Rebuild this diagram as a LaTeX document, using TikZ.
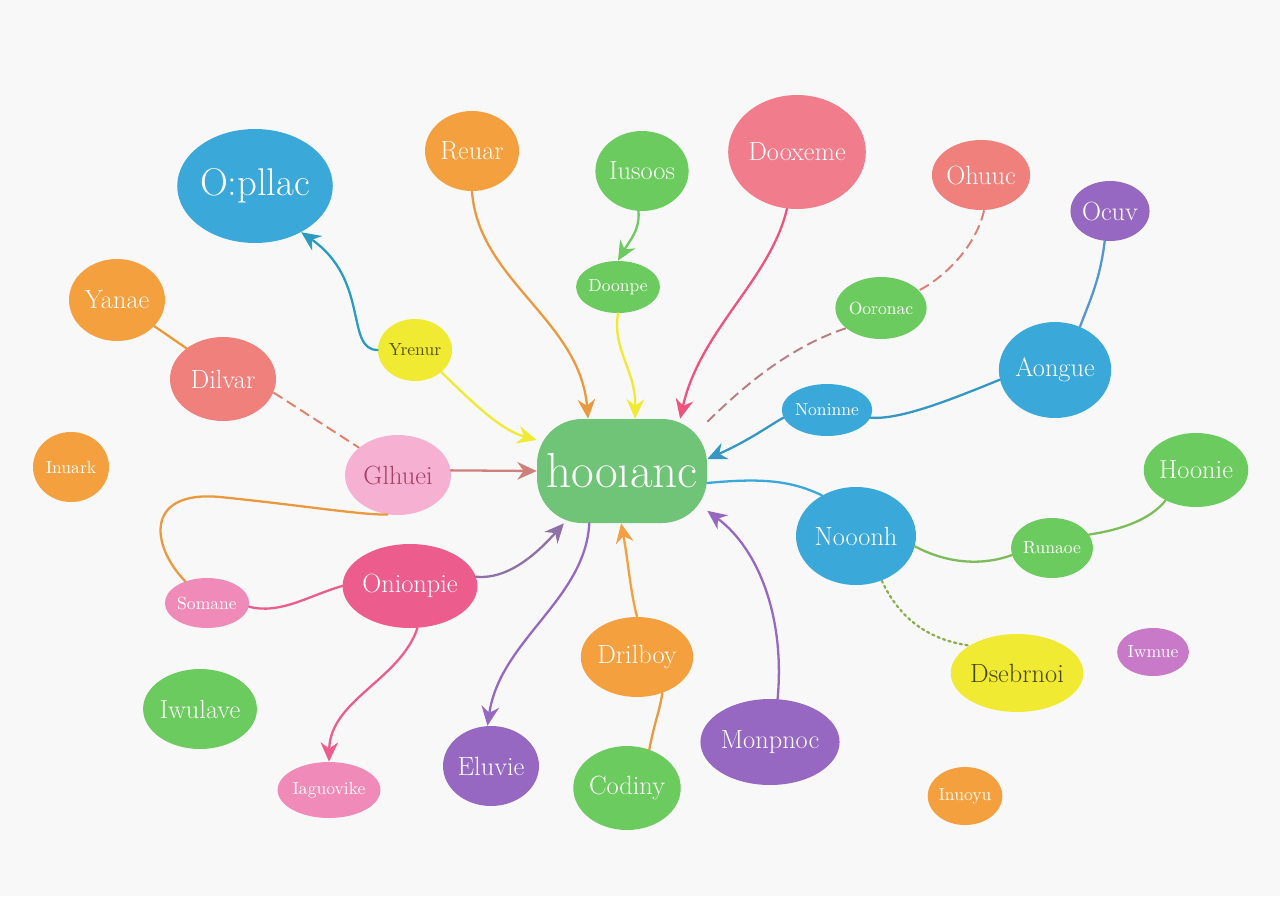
\documentclass[tikz,border=0pt]{standalone}
\usepackage{tikz}
\usetikzlibrary{arrows.meta, shapes.geometric, calc, positioning}

\definecolor{skyblue}{RGB}{59,168,218}
\definecolor{tangerine}{RGB}{245,160,62}
\definecolor{leaf}{RGB}{108,203,95}
\definecolor{mint}{RGB}{112,196,120}
\definecolor{rosy}{RGB}{240,124,140}
\definecolor{salmon}{RGB}{240,128,124}
\definecolor{grape}{RGB}{150,104,194}
\definecolor{lilac}{RGB}{200,121,200}
\definecolor{lemon}{RGB}{240,234,50}
\definecolor{blush}{RGB}{246,176,210}
\definecolor{berry}{RGB}{236,92,140}
\definecolor{candy}{RGB}{240,138,184}
\definecolor{paper}{RGB}{248,248,248}

\begin{document}
\begin{tikzpicture}[x=0.02cm, y=-0.02cm, >={Stealth[length=11pt, width=10pt]}, link/.style={draw=#1, line width=1.3pt, line cap=round}, faint/.style={draw=#1, line width=1.1pt, dashed, dash pattern=on 6pt off 3pt}]
    % Define styles for the bubbles and their text
    \tikzstyle{bubble} = [ellipse, inner sep=0pt, text=white]
    \tikzstyle{bigtext} = [font=\fontsize{22}{24}\selectfont]
    \tikzstyle{midtext} = [font=\fontsize{15}{16}\selectfont]
    \tikzstyle{smalltext} = [font=\fontsize{10}{11}\selectfont]

    % Background and margins
    \fill[paper] (0,0) rectangle (1280,896);
    \useasboundingbox (0,0) rectangle (1280,896);

    % Nodes placement
    \node [rectangle, rounded corners=0.9cm, fill=mint, text=white, minimum width=3.4cm, minimum height=2.08cm, font=\fontsize{28}{30}\selectfont] (hoo) at (622,471) {hooıanc};

    \node [bubble, bigtext, fill=skyblue, minimum width=2.92cm, minimum height=2.28cm] (opl) at (255,186) {O:pllac};
    \node [bubble, midtext, fill=tangerine, minimum width=1.88cm, minimum height=1.6cm] (reu) at (472,151) {Reuar};
    \node [bubble, midtext, fill=leaf, minimum width=1.76cm, minimum height=1.6cm] (ius) at (642,171) {Iusoos};
    \node [bubble, midtext, fill=rosy, minimum width=2.72cm, minimum height=2.28cm] (doo) at (797,152) {Dooxeme};
    \node [bubble, midtext, fill=salmon, minimum width=1.64cm, minimum height=1.4cm] (ohu) at (981,175) {Ohuuc};
    \node [bubble, midtext, fill=grape, minimum width=1.28cm, minimum height=1.2cm] (ocu) at (1110,211) {Ocuv};
    \node [bubble, smalltext, fill=leaf, minimum width=1.16cm, minimum height=1.04cm] (doa) at (618,287) {Doonpe};
    \node [bubble, smalltext, fill=leaf, minimum width=1.44cm, minimum height=1.24cm] (oor) at (881,308) {Ooronac};
    \node [bubble, midtext, fill=skyblue, minimum width=2.08cm, minimum height=1.92cm] (aon) at (1055,370) {Aongue};
    \node [bubble, smalltext, fill=skyblue, minimum width=1.16cm, minimum height=1.04cm] (non) at (827,410) {Noninne};

    \node [bubble, midtext, fill=tangerine, minimum width=1.92cm, minimum height=1.64cm] (yan) at (117,300) {Yanae};
    \node [bubble, midtext, fill=salmon, minimum width=2.12cm, minimum height=1.68cm] (dil) at (223,379) {Dilvar};
    \node [bubble, smalltext, fill=lemon, text=black!65!lemon, minimum width=1.32cm, minimum height=1.24cm] (yre) at (415,350) {Yrenur};
    \node [bubble, smalltext, fill=tangerine, minimum width=1.52cm, minimum height=1.4cm] (inu) at (71,467) {Inuark};
    \node [bubble, midtext, fill=blush, text=berry!70!black, minimum width=2.12cm, minimum height=1.6cm] (glh) at (398,475) {Glhuei};

    \node [bubble, midtext, fill=leaf, minimum width=1.68cm, minimum height=1.48cm] (hoc) at (1196,470) {Hoonie};
    \node [bubble, midtext, fill=skyblue, minimum width=2.4cm, minimum height=1.96cm] (noo) at (856,536) {Nooonh};
    \node [bubble, smalltext, fill=leaf, minimum width=1.48cm, minimum height=1.2cm] (run) at (1052,548) {Runaoe};
    \node [bubble, midtext, fill=lemon, text=black!70!lemon, minimum width=2.04cm, minimum height=1.56cm] (dse) at (1017,673) {Dsebrnoi};
    \node [bubble, smalltext, fill=lilac, minimum width=1.08cm, minimum height=0.96cm] (iwm) at (1153,652) {Iwmue};
    \node [bubble, smalltext, fill=tangerine, minimum width=1.48cm, minimum height=1.16cm] (ino) at (965,796) {Inuoyu};

    \node [bubble, smalltext, fill=candy, minimum width=1.2cm, minimum height=1.0cm] (som) at (207,603) {Somane};
    \node [bubble, midtext, fill=berry, minimum width=2.56cm, minimum height=1.68cm] (oni) at (410,586) {Onionpie};
    \node [bubble, midtext, fill=tangerine, minimum width=2.2cm, minimum height=1.6cm] (dri) at (637,657) {Drilboy};
    \node [bubble, midtext, fill=leaf, minimum width=1.96cm, minimum height=1.6cm] (iwu) at (200,709) {Iwulave};
    \node [bubble, midtext, fill=grape, minimum width=2.08cm, minimum height=1.72cm] (mon) at (770,742) {Monpnoc};
    \node [bubble, midtext, fill=grape, minimum width=1.92cm, minimum height=1.6cm] (elu) at (491,766) {Eluvie};
    \node [bubble, midtext, fill=leaf, minimum width=1.84cm, minimum height=1.68cm] (cod) at (627,788) {Codiny};
    \node [bubble, smalltext, fill=candy, minimum width=1.52cm, minimum height=1.12cm] (iag) at (329,790) {Iaguovike};

    % Draw edges towards the centre
    \draw[link=skyblue!70!teal, ->] (yre.west) .. controls (345,350) and (370,280) .. (opl.-45);
    \draw[link=lemon, ->] (yre.-40) .. controls (470,400) and (500,430) .. (hoo.160);
    \draw[link=tangerine!80!brown, ->] (reu.south) .. controls (478,280) and (580,320) .. (hoo.123);
    \draw[link=leaf, ->] (ius.-95) .. controls (640,230) and (630,240) .. (doa.north);
    \draw[link=lemon, ->] (doa.south) .. controls (612,350) and (636,370) .. (hoo.76);
    \draw[link=berry!90!red, ->] (doo.-100) .. controls (770,280) and (700,330) .. (hoo.42);
    \draw[faint=salmon!80!gray] (ohu.-85) .. controls (975,250) and (940,280) .. (oor.25);
    \draw[faint=rosy!50!gray] (oor.-150) .. controls (780,350) and (730,400) .. (hoo.30);
    \draw[link=skyblue!70!grape] (ocu.-100) .. controls (1100,280) and (1090,300) .. (aon.60);
    \draw[link=skyblue!90!black] (aon.-170) .. controls (950,400) and (900,420) .. (non.-10);
    \draw[link=skyblue!90!black, ->] (non.-170) .. controls (770,425) and (750,440) .. (hoo.8);
    \draw[link=skyblue] (hoo.-8) .. controls (760,478) and (790,480) .. (noo.130);
    \draw[link=leaf!80!brown] (noo.-10) .. controls (950,565) and (985,565) .. (run.-170);
    \draw[link=leaf!80!brown] (run.20) .. controls (1120,530) and (1150,520) .. (hoc.-135);
    \draw[link=leaf!60!brown, dotted] (noo.-60) .. controls (900,620) and (930,640) .. (dse.150);

    % Draw edges on the left side
    \draw[link=tangerine!80!brown] (yan.-35) -- (dil.140);
    \draw[faint=salmon!70!brown] (dil.-15) -- (glh.145);
    \draw[link=salmon!70!gray, ->] (glh.5) -- (hoo.west);
    \draw[link=tangerine!80!brown] (som.135) .. controls (150,545) and (145,490) .. (220,497) .. controls (300,505) and (360,515) .. (glh.-105);
    \draw[link=berry] (som.-5) .. controls (280,615) and (310,595) .. (oni.west);
    \draw[link=berry, ->] (oni.-80) .. controls (400,680) and (330,700) .. (iag.north);
    \draw[link=grape!60!gray, ->] (oni.8) .. controls (510,580) and (540,550) .. (hoo.222);

    % Draw edges below the centre
    \draw[link=grape, ->] (hoo.238) .. controls (585,600) and (500,640) .. (elu.95);
    \draw[link=tangerine, ->] (dri.north) .. controls (630,590) and (628,560) .. (hoo.-91);
    \draw[link=tangerine!80!brown] (cod.60) .. controls (655,720) and (660,710) .. (dri.-55);
    \draw[link=grape, ->] (mon.80) .. controls (785,620) and (760,550) .. (hoo.-25);
\end{tikzpicture}
\end{document}
